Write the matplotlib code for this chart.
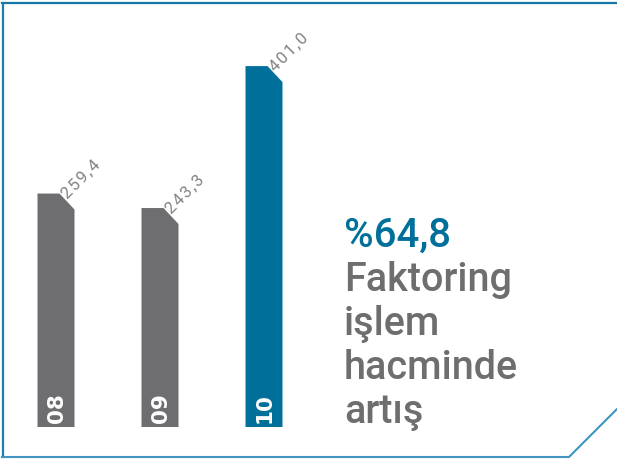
import matplotlib
matplotlib.use("Agg")
import matplotlib.pyplot as plt
from matplotlib.patches import Polygon
from matplotlib.lines import Line2D

# ---- data ----
years = ["08", "09", "10"]
values = [259.4, 243.3, 401.0]
value_labels = ["259,4", "243,3", "401,0"]
bar_colors = ["#6e6e70", "#6e6e70", "#00709b"]
headline = "%64,8"
caption_lines = ["Faktoring", "işlem", "hacminde", "artış"]

W, H = 617, 459
fig = plt.figure(figsize=(W / 100, H / 100), dpi=100)
fig.patch.set_facecolor("white")

# overlay axes for frame (pixel coordinates)
ov = fig.add_axes([0, 0, 1, 1])
ov.set_xlim(0, W)
ov.set_ylim(H, 0)
ov.axis("off")
ov.add_line(Line2D([2, W], [3, 3], color="#1577a5", lw=1.6))
ov.add_line(Line2D([2.5, 2.5], [3, 457], color="#1a7fad", lw=1.6))
ov.add_line(Line2D([2, 569, W], [457, 457, 409], color="#3f95bf", lw=1.5))

# bar axes: y=0 at pixel 427, 0.9 px per unit; bar spacing 104 px
px_per_unit_y = 0.9
px_per_idx = 104.0
x0_px = 56.0
base_px = 427
ax = fig.add_axes([0, (H - base_px) / H, 1, base_px / H])
ax.set_xlim(-x0_px / px_per_idx, (W - x0_px) / px_per_idx)
ax.set_ylim(0, base_px / px_per_unit_y)
ax.axis("off")
ax.patch.set_alpha(0)

bw = 37 / px_per_idx
cut_x = 15 / px_per_idx
cut_y = 16 / px_per_unit_y
HAIR = "\u200a"

for i, (v, c, lab, yr) in enumerate(zip(values, bar_colors, value_labels, years)):
    xl, xr = i - bw / 2, i + bw / 2
    poly = Polygon([(xl, 0), (xl, v), (xr - cut_x, v), (xr, v - cut_y), (xr, 0)],
                   closed=True, facecolor=c, edgecolor="none")
    ax.add_patch(poly)
    spaced = HAIR.join(lab)
    ax.text(xr - cut_x / 2 + 0 / px_per_idx, v - cut_y / 2 + 2 / px_per_unit_y, spaced,
            rotation=45, rotation_mode="anchor", ha="left", va="baseline",
            fontsize=12, color="#828284", family=["Roboto", "DejaVu Sans"],
            fontweight="normal")
    ax.text(i + 1 / px_per_idx, 4 / px_per_unit_y, yr, rotation=90, ha="center", va="bottom",
            fontsize=15.5, color="white", fontweight="bold",
            family=["DejaVu Sans"])

# headline text
tx = 344 / W
fig.text(tx, 1 - 247 / H, headline, fontsize=29, color="#00709b",
         fontweight="medium", family=["Roboto", "DejaVu Sans"], va="baseline")
for k, line in enumerate(caption_lines):
    fig.text(tx, 1 - (291 + 44 * k) / H, line, fontsize=28.5, color="#6e6e70",
             fontweight="medium", family=["Roboto", "DejaVu Sans"], va="baseline")

fig.savefig("out.png", dpi=100, facecolor="white")
